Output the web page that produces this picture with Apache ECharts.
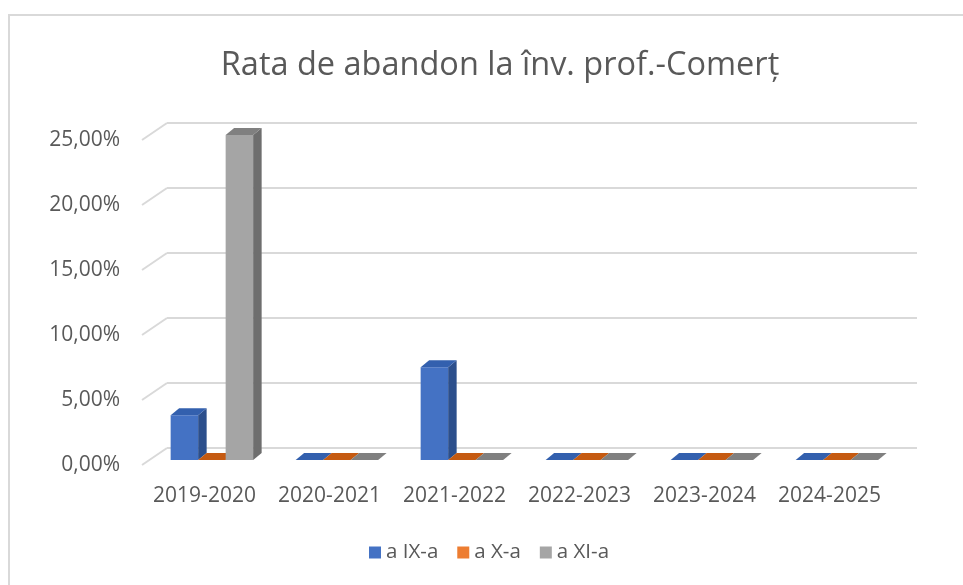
<!DOCTYPE html>
<html>
<head>
<meta charset="utf-8">
<script src="https://cdn.jsdelivr.net/npm/echarts@6/dist/echarts.min.js"></script>
<style>
  html, body { margin: 0; padding: 0; background: #fff; }
  #chart { width: 963px; height: 585px; }
</style>
</head>
<body>
<div id="chart"></div>
<script>
// date
const categories = ['2019-2020', '2020-2021', '2021-2022', '2022-2023', '2023-2024', '2024-2025'];
const clasaIX = [0.0345, 0, 0.0714, 0, 0, 0];
const clasaX = [0, 0, 0, 0, 0, 0];
const clasaXI = [0.25, 0, 0, 0, 0, 0];
const yTicks = [0, 0.05, 0.10, 0.15, 0.20, 0.25];

var chart = echarts.init(document.getElementById('chart'));

const textColor = '#595959';
const font = "'Open Sans', sans-serif";

// culori: fata, lateral, sus
const palette = [
  { front: '#4472C4', side: '#2C4F8C', top: '#3360AE' },
  { front: '#ED7D31', side: '#B3581B', top: '#C55A11' },
  { front: '#A5A5A5', side: '#6E6E6E', top: '#808080' }
];

// bara "3D": fata + lateral + capac
function bar3d(idx) {
  return function (params, api) {
    var cat = api.value(0);
    var top = api.coord([cat, api.value(1)]);
    var base = api.coord([cat, 0]);
    var band = api.size([1, 0])[0];
    var w = band * 0.22;
    var dx = 8.5, dy = -7;
    var x0 = top[0] - 1.5 * w + idx * w + 7.4;
    var yt = top[1] - 5, yb = base[1] - 5;
    var c = palette[idx];
    return {
      type: 'group',
      children: [
        { type: 'rect', shape: { x: x0, y: yt, width: w, height: yb - yt }, style: { fill: c.front } },
        { type: 'polygon', shape: { points: [[x0 + w, yt], [x0 + w + dx, yt + dy], [x0 + w + dx, yb + dy], [x0 + w, yb]] }, style: { fill: c.side } },
        { type: 'polygon', shape: { points: [[x0, yt], [x0 + w, yt], [x0 + w + dx, yt + dy], [x0 + dx, yt + dy]] }, style: { fill: c.top } }
      ]
    };
  };
}

function makeSeries(name, values, idx) {
  return {
    name: name,
    type: 'custom',
    xAxisIndex: 0,
    yAxisIndex: 0,
    z: 5,
    itemStyle: { color: palette[idx].front },
    renderItem: bar3d(idx),
    encode: { x: 0, y: 1 },
    data: values.map(function (v, i) { return [i, v]; })
  };
}

const option = {
  backgroundColor: '#fff',
  animation: false,
  title: {
    text: 'Rata de abandon la înv. prof.-Comerț',
    left: 495,
    textAlign: 'center',
    top: 44,
    textStyle: { color: textColor, fontFamily: font, fontWeight: 'normal', fontSize: 32.5 }
  },
  legend: {
    data: ['a IX-a', 'a X-a', 'a XI-a'],
    bottom: 17,
    left: 364,
    icon: 'rect',
    itemWidth: 12,
    itemHeight: 12,
    itemGap: 19,
    itemStyle: { borderWidth: 0 },
    textStyle: { color: textColor, fontFamily: font, fontSize: 20.5 }
  },
  graphic: [
    { type: 'rect', shape: { x: 9, y: 15, width: 1000, height: 620 }, style: { fill: null, stroke: '#d9d9d9', lineWidth: 2 }, silent: true }
  ],
  grid: [
    { left: 142, top: 140, width: 750, height: 325 },
    { left: 167, top: 123, width: 750, height: 325 }
  ],
  xAxis: [
    {
      type: 'category',
      gridIndex: 0,
      data: categories,
      axisLine: { show: false },
      axisTick: { show: false },
      axisLabel: { color: textColor, fontFamily: font, fontSize: 21, margin: 21, interval: 0 }
    },
    { type: 'category', gridIndex: 1, data: categories, show: false }
  ],
  yAxis: [
    {
      type: 'value',
      gridIndex: 0,
      min: 0,
      max: 0.25,
      interval: 0.05,
      axisLine: { show: false },
      axisTick: { show: false },
      splitLine: { show: false },
      axisLabel: {
        color: textColor,
        fontFamily: font,
        fontSize: 21,
        margin: 22,
        formatter: function (v) { return (v * 100).toFixed(2).replace('.', ',') + '%'; }
      }
    },
    {
      type: 'value',
      gridIndex: 1,
      min: 0,
      max: 0.25,
      interval: 0.05,
      axisLine: { show: false },
      axisTick: { show: false },
      axisLabel: { show: false },
      splitLine: { lineStyle: { color: '#d9d9d9', width: 2 } }
    }
  ],
  series: [
    {
      // liniile oblice de pe peretele lateral
      type: 'custom',
      xAxisIndex: 0,
      yAxisIndex: 0,
      silent: true,
      z: 1,
      renderItem: function (params, api) {
        var p = api.coord([0, api.value(1)]);
        var x = params.coordSys.x;
        return {
          type: 'line',
          shape: { x1: x, y1: p[1], x2: x + 25, y2: p[1] - 17 },
          style: { stroke: '#d9d9d9', lineWidth: 2 }
        };
      },
      encode: { x: 0, y: 1 },
      data: yTicks.map(function (v) { return [0, v]; })
    },
    makeSeries('a IX-a', clasaIX, 0),
    makeSeries('a X-a', clasaX, 1),
    makeSeries('a XI-a', clasaXI, 2)
  ]
};

option && chart.setOption(option);
</script>
</body>
</html>
